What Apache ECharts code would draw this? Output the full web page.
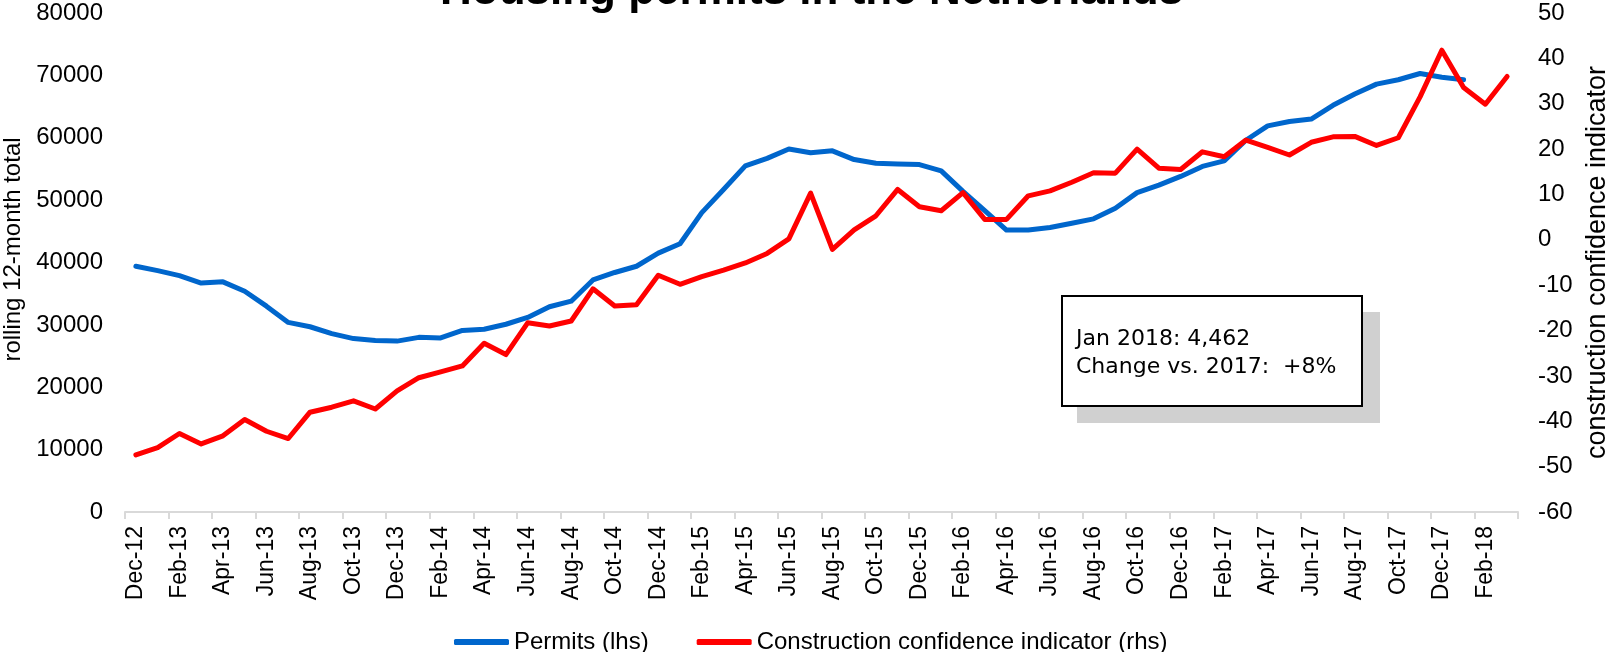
<!DOCTYPE html>
<html>
<head>
<meta charset="utf-8">
<title>Housing permits in the Netherlands</title>
<script src="https://cdn.jsdelivr.net/npm/echarts@6/dist/echarts.min.js"></script>
<style>
  html, body { margin: 0; padding: 0; background: #ffffff; }
  #chart { width: 1607px; height: 652px; }
</style>
</head>
<body>
<div id="chart"></div>
<script>
// Monthly categories, Dec 2012 to Mar 2018
const months = [
  'Dec-12',
  'Jan-13','Feb-13','Mar-13','Apr-13','May-13','Jun-13','Jul-13','Aug-13','Sep-13','Oct-13','Nov-13','Dec-13',
  'Jan-14','Feb-14','Mar-14','Apr-14','May-14','Jun-14','Jul-14','Aug-14','Sep-14','Oct-14','Nov-14','Dec-14',
  'Jan-15','Feb-15','Mar-15','Apr-15','May-15','Jun-15','Jul-15','Aug-15','Sep-15','Oct-15','Nov-15','Dec-15',
  'Jan-16','Feb-16','Mar-16','Apr-16','May-16','Jun-16','Jul-16','Aug-16','Sep-16','Oct-16','Nov-16','Dec-16',
  'Jan-17','Feb-17','Mar-17','Apr-17','May-17','Jun-17','Jul-17','Aug-17','Sep-17','Oct-17','Nov-17','Dec-17',
  'Jan-18','Feb-18','Mar-18'
];

// Housing permits, rolling 12-month total (left axis)
const permits = [
  39400, 38700, 37900, 36700, 36900, 35400, 33000, 30400, 29700, 28600, 27800, 27500, 27400,
  28000, 27900, 29100, 29300, 30100, 31200, 32900, 33800, 37200, 38400, 39400, 41500,
  43000, 48000, 51700, 55500, 56700, 58200, 57600, 57900, 56500, 55900, 55800, 55700,
  54700, 51400, 48300, 45200, 45200, 45600, 46300, 47000, 48700, 51200, 52400, 53800,
  55400, 56300, 59600, 61900, 62600, 63000, 65200, 67000, 68600, 69300, 70300, 69700,
  69300, null, null
];

// Construction confidence indicator (right axis)
const confidence = [
  -47.4, -45.8, -42.7, -45.0, -43.2, -39.6, -42.2, -43.8, -38.0, -36.9, -35.5, -37.3, -33.3,
  -30.4, -29.1, -27.8, -22.8, -25.3, -18.3, -19.0, -17.9, -10.8, -14.6, -14.3, -7.8,
  -9.8, -8.1, -6.7, -5.1, -3.0, 0.2, 10.3, -2.1, 2.2, 5.3, 11.1, 7.3,
  6.4, 10.4, 4.5, 4.5, 9.7, 10.8, 12.7, 14.8, 14.7, 20.0, 15.8, 15.5,
  19.4, 18.3, 22.0, 20.4, 18.7, 21.5, 22.7, 22.8, 20.8, 22.5, 31.5, 41.8,
  33.6, 29.9, 36.0
];

const seriesNames = ['Permits (lhs)', 'Construction confidence indicator (rhs)'];
const noteLines = ['Jan 2018: 4,462', 'Change vs. 2017:  +8%'];

const FONT = '"Liberation Sans", Arial, sans-serif';
const BLUE = '#0066cc';
const RED = '#ff0000';
const AXIS_GREY = '#d9d9d9';

const chart = echarts.init(document.getElementById('chart'), null, { renderer: 'canvas' });

chart.setOption({
  backgroundColor: '#ffffff',
  animation: false,
  title: {
    text: 'Housing permits in the Netherlands',
    left: 440,
    top: -30,
    padding: 0,
    textStyle: { fontFamily: FONT, fontSize: 44, fontWeight: 'bold', color: '#000000' }
  },
  legend: {
    data: seriesNames.map(n => ({ name: n, icon: 'roundRect' })),
    left: 454,
    top: 630,
    padding: 0,
    itemWidth: 55,
    itemHeight: 6,
    itemGap: 48,
    textStyle: { fontFamily: FONT, fontSize: 24, color: '#000000' }
  },
  grid: {
    left: 125, right: 89, top: 13, bottom: 140,
    containLabel: false,
    outerBoundsMode: 'none'
  },
  xAxis: {
    type: 'category',
    data: months,
    boundaryGap: true,
    axisLine: { show: true, lineStyle: { color: AXIS_GREY, width: 2 } },
    axisTick: { show: true, interval: 1, length: 7, lineStyle: { color: AXIS_GREY, width: 2 } },
    axisLabel: {
      interval: 1,
      rotate: 90,
      margin: 14,
      fontFamily: FONT,
      fontSize: 23,
      color: '#000000'
    },
    splitLine: { show: false }
  },
  yAxis: [
    {
      type: 'value',
      min: 0,
      max: 80000,
      interval: 10000,
      name: 'rolling 12-month total',
      nameLocation: 'middle',
      nameRotate: 90,
      nameGap: 96,
      nameTextStyle: { fontFamily: FONT, fontSize: 24, color: '#000000', padding: [0, 0, 0, 26] },
      axisLine: { show: false },
      axisTick: { show: false },
      splitLine: { show: false },
      axisLabel: {
        margin: 22, fontFamily: FONT, fontSize: 24, color: '#000000',
        formatter: v => String(v)
      }
    },
    {
      type: 'value',
      min: -60,
      max: 50,
      interval: 10,
      position: 'right',
      name: 'construction confidence indicator',
      nameLocation: 'middle',
      nameRotate: 90,
      nameGap: 66,
      nameTextStyle: { fontFamily: FONT, fontSize: 27, color: '#000000' },
      axisLine: { show: false },
      axisTick: { show: false },
      splitLine: { show: false },
      axisLabel: {
        margin: 20, fontFamily: FONT, fontSize: 24, color: '#000000',
        formatter: v => String(v)
      }
    }
  ],
  series: [
    {
      name: seriesNames[0],
      type: 'line',
      yAxisIndex: 0,
      data: permits,
      symbol: 'none',
      color: BLUE,
      lineStyle: { color: BLUE, width: 5, join: 'round', cap: 'round' },
      z: 3
    },
    {
      name: seriesNames[1],
      type: 'line',
      yAxisIndex: 1,
      data: confidence,
      symbol: 'none',
      color: RED,
      lineStyle: { color: RED, width: 5, join: 'round', cap: 'round' },
      z: 4
    }
  ],
  graphic: [
    {
      type: 'rect',
      shape: { x: 1077, y: 312, width: 303, height: 111 },
      style: { fill: '#d0d0d0' },
      z: 10
    },
    {
      type: 'rect',
      shape: { x: 1062, y: 296, width: 300, height: 110 },
      style: { fill: '#ffffff', stroke: '#000000', lineWidth: 2 },
      z: 11
    },
    {
      type: 'text',
      x: 1076,
      y: 325,
      style: {
        text: noteLines.join('\n'),
        font: '22px "DejaVu Sans", sans-serif',
        fill: '#000000',
        lineHeight: 28,
        verticalAlign: 'top',
        align: 'left'
      },
      z: 12
    }
  ]
});
</script>
</body>
</html>
